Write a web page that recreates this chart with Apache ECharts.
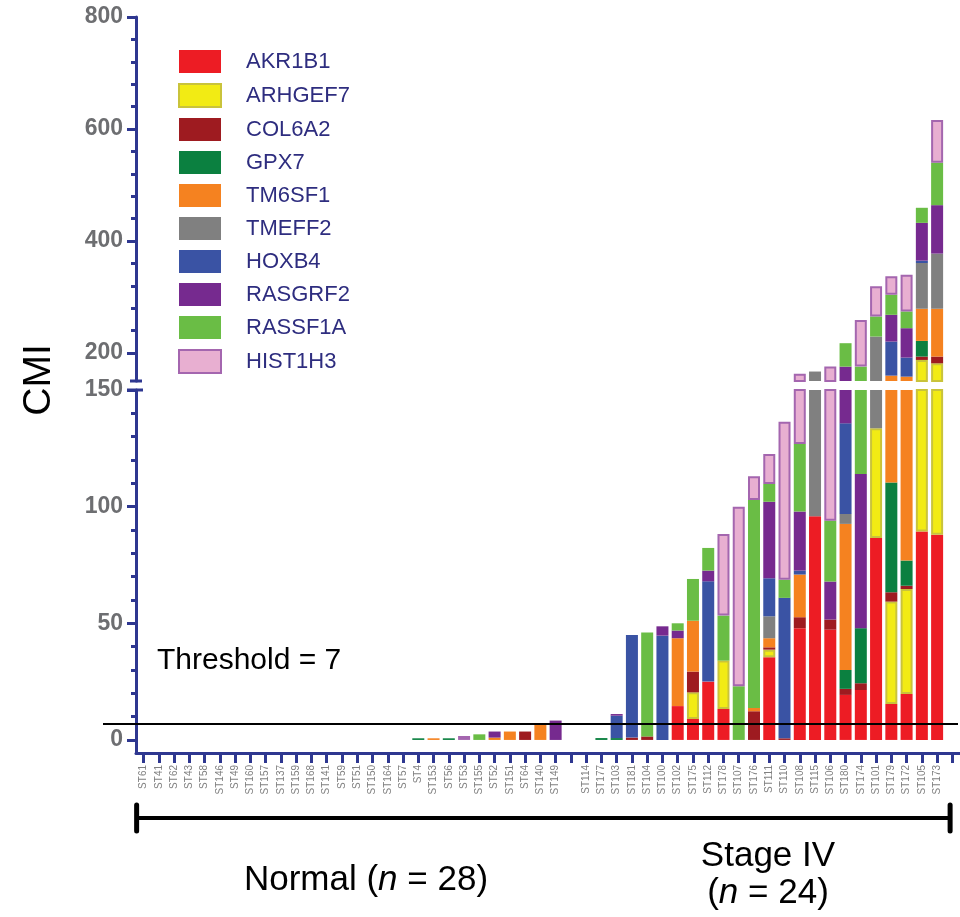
<!DOCTYPE html>
<html><head><meta charset="utf-8">
<script src="https://cdn.jsdelivr.net/npm/echarts@6/dist/echarts.min.js"></script>
<style>html,body{margin:0;padding:0;background:#fff}#c{width:960px;height:917px}</style>
</head><body><div id="c"></div>
<script>
// ---- categories ----
const normalSamples = ['ST61','ST41','ST62','ST43','ST58','ST146','ST49','ST160','ST157','ST137','ST159','ST168','ST141','ST59','ST51','ST150','ST164','ST57','ST4','ST153','ST56','ST53','ST155','ST52','ST151','ST64','ST140','ST149'];
const stageSamples = ['ST114','ST177','ST103','ST181','ST104','ST100','ST102','ST175','ST112','ST178','ST107','ST176','ST111','ST110','ST108','ST115','ST106','ST180','ST174','ST101','ST179','ST172','ST105','ST173'];

// ---- values: 28 normal samples, then 24 stage IV samples ----
const AKR1B1  = [0,0,0,0,0,0,0,0,0,0,0,0,0,0,0,0,0,0,0,0,0,0,0,0,0,0,0,0,
                 0,0,0,0,0,0,14.5,9,25,13.3,0,0,35.4,0,47.9,95.9,47.3,19.3,21.4,86.6,15.4,19.7,89.3,87.9];
const ARHGEF7 = [0,0,0,0,0,0,0,0,0,0,0,0,0,0,0,0,0,0,0,0,0,0,0,0,0,0,0,0,
                 0,0,0,0,0,0,0,11.4,0,20.7,0,0,3.3,0,0,0,0,0,0,47,43.9,45,98.3,93.7];
const COL6A2  = [0,0,0,0,0,0,0,0,0,0,0,0,0,0,0,0,0,0,0,0,0,0,0,0,0,3.6,0,0,
                 0,0,0,1,1.5,0,0,8.9,0,0,0,12.3,1,0.7,4.7,0,4.3,2.6,2.9,0,4,1.4,6,12];
const GPX7    = [0,0,0,0,0,0,0,0,0,0,0,0,0,0,0,0,0,0,0.7,0,0.7,0,0,0,0,0,0,0,
                 0,0.8,0.8,0,0,0,0,0,0,0,0,0,0,0,0,0,0,8.1,23.6,0,47.1,10.8,28,0];
const TM6SF1  = [0,0,0,0,0,0,0,0,0,0,0,0,0,0,0,0,0,0,0,0.7,0,0,0,1,3.6,0,6.9,0,
                 0,0,0,0,0,0,29.1,21.8,0,0,0,1.4,3.9,0,18.3,0,0,62.6,0,0,49.2,80.9,57.4,85.4];
const TMEFF2  = [0,0,0,0,0,0,0,0,0,0,0,0,0,0,0,0,0,0,0,0,0,0,0,0,0,0,0,0,
                 0,0,0,0,0,0,0,0,0,0,0,0,9.4,0,0,71,0,4.3,0,95.8,0,0,81.7,98.5];
const HOXB4   = [0,0,0,0,0,0,0,0,0,0,0,0,0,0,0,0,0,0,0,0,0,0,0,0,0,0,0,0,
                 0,0,9.6,44,0,44.7,0,0,43,0,0,0,16.3,60.2,1.7,0,0,38.8,0,0,60.8,34,4.2,0];
const RASGRF2 = [0,0,0,0,0,0,0,0,0,0,0,0,0,0,0,0,0,0,0,0,0,0,0,2.6,0,0,0,8.3,
                 0,0,0.7,0,0,4,3.3,0,4.6,0,0,0,32.8,0,25.3,0,16.3,40,66.1,0,47.8,52.5,67.5,86.5];
const RASSF1A = [0,0,0,0,0,0,0,0,0,0,0,0,0,0,0,0,0,0,0,0,0,0,2.4,0,0,0,0,0,
                 0,0,0,0,44.6,0,3.1,17.9,9.7,19.3,23,89.2,7.6,7.8,29,0,26.1,41.8,61.7,35.8,35.8,29.9,26.9,75.9];
const HIST1H3 = [0,0,0,0,0,0,0,0,0,0,0,0,0,0,0,0,0,0,0,0,0,1.7,0,0,0,0,0,0,
                 0,0,0,0,0,0,0,0,0,35,77,10.1,12.9,67.7,36,0,81.7,0,83.3,53.8,32.9,65.7,0,76.1];

const threshold = 7;
const lowerMajorTicks = [0, 50, 100, 150];
const lowerMinorTicks = [10,20,30,40,60,70,80,90,110,120,130,140];
const upperMajorTicks = [200, 400, 600, 800];
const upperMinorTicks = [240,280,320,360,440,480,520,560,640,680,720,760];

const genes = [
  {name:'AKR1B1',  data:AKR1B1,  color:'#ED1C24'},
  {name:'ARHGEF7', data:ARHGEF7, color:'#F2EB14', border:'#C9C33B'},
  {name:'COL6A2',  data:COL6A2,  color:'#9E1B20'},
  {name:'GPX7',    data:GPX7,    color:'#0B8040'},
  {name:'TM6SF1',  data:TM6SF1,  color:'#F58220'},
  {name:'TMEFF2',  data:TMEFF2,  color:'#808080'},
  {name:'HOXB4',   data:HOXB4,   color:'#3A53A4'},
  {name:'RASGRF2', data:RASGRF2, color:'#762A8F'},
  {name:'RASSF1A', data:RASSF1A, color:'#6ABD45'},
  {name:'HIST1H3', data:HIST1H3, color:'#E8AFD1', border:'#A466AF'}
];

const categories = normalSamples.concat([''], stageSamples, ['']);
function full(arr){
  return arr.slice(0,28).concat([0], arr.slice(28), [0]).map(v => v === 0 ? '-' : v);
}

const AX = '#2E3790';
const FONT = 'Liberation Sans, Arial, sans-serif';
const GL = 136;

function yAxes(gridIndex, min, max, major, minor){
  return [
    {type:'value', gridIndex, min, max, position:'left',
     splitLine:{show:false},
     axisLine:{show:true, onZero:false, lineStyle:{color:AX, width:3}},
     axisTick:{show:true, customValues:major, length:9, lineStyle:{color:AX, width:3}},
     axisLabel:{show:true, customValues:major, margin:13, color:'#6D6E71', fontWeight:'bold', fontSize:23, fontFamily:FONT}},
    {type:'value', gridIndex, min, max, position:'left',
     splitLine:{show:false},
     axisLine:{show:false, onZero:false},
     axisTick:{show:true, customValues:minor, length:5, lineStyle:{color:AX, width:3}},
     axisLabel:{show:false}}
  ];
}

const series = [];
[0,1].forEach(g => {
  genes.forEach((ge, i) => {
    const s = {
      name: ge.name, type:'bar', stack: g === 0 ? 'up' : 'lo',
      xAxisIndex: g, yAxisIndex: g === 0 ? 0 : 2,
      barWidth: 12, clip: true,
      data: full(ge.data),
      itemStyle: ge.border ? {color: ge.color, borderColor: ge.border, borderWidth: 2} : {color: ge.color, borderWidth: 0},
      emphasis:{disabled:true}
    };
    if (g === 1 && i === 0) {
      s.markLine = {
        silent:true, symbol:'none', label:{show:false},
        lineStyle:{color:'#000', width:2, type:'solid'},
        data:[[{x:103, yAxis:threshold}, {x:958, yAxis:threshold}]]
      };
    }
    series.push(s);
  });
});

const chart = echarts.init(document.getElementById('c'), null, {renderer:'canvas'});
const option = {
  animation:false,
  backgroundColor:'#fff',
  grid:[
    {left:GL, right:0, top:17, height:364},
    {left:GL, right:0, top:390, height:363}
  ],
  xAxis:[
    {type:'category', gridIndex:0, data:categories, boundaryGap:true, show:false},
    {type:'category', gridIndex:1, data:categories, boundaryGap:true,
     axisLine:{show:true, onZero:false, lineStyle:{color:AX, width:3}},
     axisTick:{show:true, alignWithLabel:true, interval:0, length:10, lineStyle:{color:AX, width:3}},
     axisLabel:{show:true, interval:0, rotate:90, margin:12, fontSize:10, color:'#808080', fontFamily:FONT}}
  ],
  yAxis: yAxes(0, 150, 800, upperMajorTicks, upperMinorTicks)
          .concat(yAxes(1, -5.6, 150, lowerMajorTicks, lowerMinorTicks)),
  legend:{
    orient:'vertical', left:173, top:45, itemWidth:42, itemHeight:23, itemGap:10,
    icon:'rect', selectedMode:false,
    data: genes.map(g => g.name),
    textStyle:{color:'#2E2D7F', fontSize:22, fontFamily:FONT, padding:[0,0,0,20]}
  },
  series
};
chart.setOption(option);

// decorations computed from the axes
const yUpBottom = chart.convertToPixel({yAxisIndex:0}, 150);
const yLoTop = chart.convertToPixel({yAxisIndex:2}, 150);
const xFirst = chart.convertToPixel({xAxisIndex:1}, 0);
const xLast = chart.convertToPixel({xAxisIndex:1}, 52);
const br = 818;
chart.setOption({
  graphic:[
    {type:'line', shape:{x1:GL-6, y1:yUpBottom, x2:GL+6, y2:yUpBottom}, style:{stroke:AX, lineWidth:3}},
    {type:'line', shape:{x1:GL-9, y1:yLoTop, x2:GL+7, y2:yLoTop}, style:{stroke:AX, lineWidth:3}},
    {type:'text', x:39, y:380, rotation:Math.PI/2,
     style:{text:'CMI', font:'39px '+FONT, fill:'#000', align:'center', verticalAlign:'middle'}},
    {type:'text', x:157, y:661,
     style:{text:'Threshold = '+threshold, font:'30px '+FONT, fill:'#000', align:'left', verticalAlign:'middle'}},
    {type:'line', shape:{x1:xFirst-7, y1:br, x2:xLast+13, y2:br}, style:{stroke:'#000', lineWidth:4}},
    {type:'line', shape:{x1:xFirst-7, y1:br-13, x2:xFirst-7, y2:br+13}, style:{stroke:'#000', lineWidth:5, lineCap:'round'}},
    {type:'line', shape:{x1:xLast+13, y1:br-13, x2:xLast+13, y2:br+13}, style:{stroke:'#000', lineWidth:5, lineCap:'round'}},
    {type:'text', x:366, y:880,
     style:{text:'{a|Normal (}{i|n}{a| = 28)}', align:'center', verticalAlign:'middle',
            rich:{a:{font:'35px '+FONT, fill:'#000'}, i:{font:'italic 35px '+FONT, fill:'#000'}}}},
    {type:'text', x:768, y:856,
     style:{text:'Stage IV', font:'35px '+FONT, fill:'#000', align:'center', verticalAlign:'middle'}},
    {type:'text', x:768, y:893,
     style:{text:'{a|(}{i|n}{a| = 24)}', align:'center', verticalAlign:'middle',
            rich:{a:{font:'35px '+FONT, fill:'#000'}, i:{font:'italic 35px '+FONT, fill:'#000'}}}}
  ]
});
</script>
</body></html>
